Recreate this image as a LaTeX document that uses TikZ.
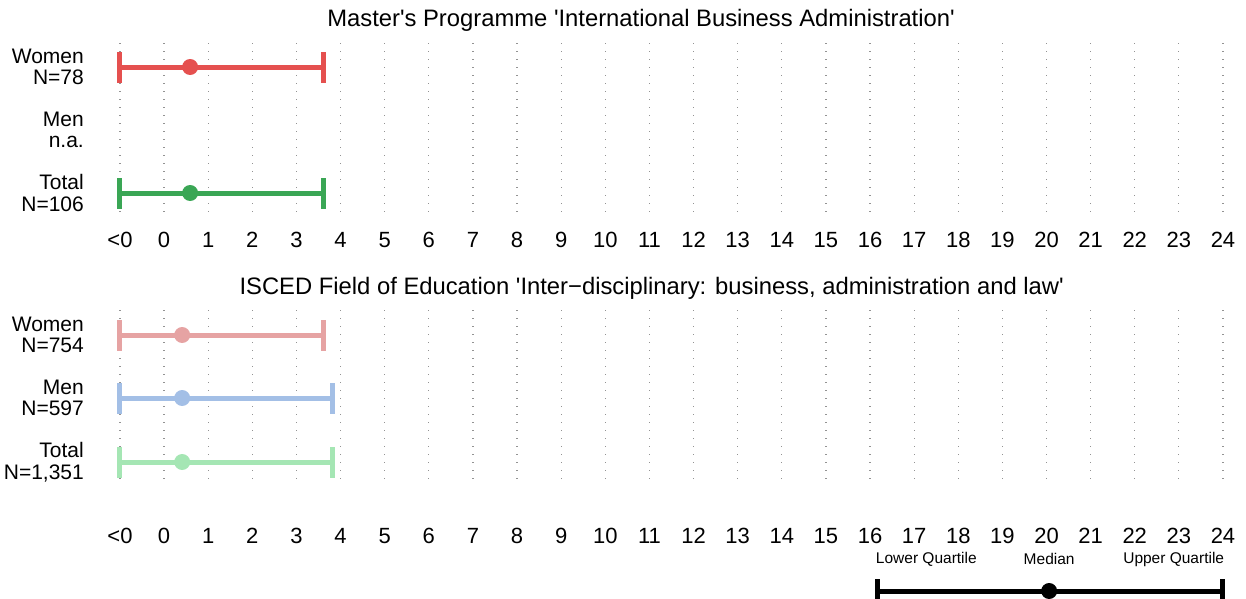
\documentclass[tikz,border=0pt]{standalone}
\usepackage{fontspec}
\setmainfont{Liberation Sans}
\usetikzlibrary{positioning}
\definecolor{wA}{HTML}{E5504F}
\definecolor{tA}{HTML}{3AA655}
\definecolor{wB}{HTML}{E6A3A3}
\definecolor{mB}{HTML}{A3BFE6}
\definecolor{tB}{HTML}{A5E6B4}

\begin{document}
\begin{tikzpicture}[x=44.12pt,y=-1pt,
		gridline/.style={gray!85,line width=1.2pt,dash pattern=on 1.2pt off 6.8pt},
		bar/.style={line width=5pt},
		med/.style={circle,inner sep=0pt,minimum size=16pt},
		rowlabel/.style={anchor=east,align=right,inner sep=0pt,font=\fontsize{21}{21.5}\selectfont},
		tick/.style={inner sep=0pt,font=\fontsize{22}{24}\selectfont},
		heading/.style={anchor=base,inner sep=0pt,font=\fontsize{23.8}{26}\selectfont},
		keytext/.style={inner sep=0pt,font=\fontsize{15.5}{18}\selectfont}]
	\useasboundingbox (-3.7194,0) rectangle (24.5218,598);
	% grid and axis
	\foreach \v in {-1,...,24} {
		\draw[gridline] (\v,43) -- (\v,217);
		\draw[gridline] (\v,310) -- (\v,485);
	}
	\node[tick] (ta) at (-1,240) {<0};
	\node[tick] (tb) at (-1,536) {<0};
	\foreach \v in {0,...,24} {
		\node[tick] (ta\v) at (\v,240) {\v};
		\node[tick] (tb\v) at (\v,536) {\v};
	}
	% headings
	\node[heading] (h1) at (10.81,26) {Master\textquotesingle s Programme \textquotesingle International Business Administration\textquotesingle};
	\node[heading] (h2) at (11.05,294) {ISCED Field of Education \textquotesingle Inter−disciplinary: business, administration and law\textquotesingle};
	% rows
	\foreach \n/\y/\u/\t in {
			a/67/3.61/{Women\\N=78},
			b/130/0/{Men\\n.a.},
			c/193/3.61/{Total\\N=106},
			d/335/3.61/{Women\\N=754},
			e/398/3.82/{Men\\N=597},
			f/462/3.82/{Total\\N=1,351}} {
		\node[rowlabel] (l\n) at (-1.815,\y) {\t};
		\coordinate (lo\n) at (-1,\y);
		\coordinate (hi\n) at (\u,\y);
	}
	\foreach \n/\m/\c in {a/0.59/wA, c/0.59/tA, d/0.41/wB, e/0.41/mB, f/0.41/tB} {
		\draw[bar,\c] (lo\n) -- (hi\n);
		\draw[bar,\c] ([yshift=15pt]lo\n) -- ([yshift=-16pt]lo\n);
		\draw[bar,\c] ([yshift=15pt]hi\n) -- ([yshift=-16pt]hi\n);
		\node[med,fill=\c] (m\n) at (\m,0 |- lo\n) {};
	}
	% key
	\coordinate (klo) at (16.18,591);
	\coordinate (khi) at (23.98,591);
	\draw[bar,black] (klo) -- (khi);
	\draw[bar,black] ([yshift=12pt]klo) -- ([yshift=-12pt]klo);
	\draw[bar,black] ([yshift=12pt]khi) -- ([yshift=-12pt]khi);
	\node[med,fill=black] (kmed) at (20.06,591) {};
	\node[keytext,anchor=west] (klt) at (16.13,559) {Lower Quartile};
	\node[keytext] (kmt) at (20.06,559) {Median};
	\node[keytext,anchor=east] (kut) at (24.03,559) {Upper Quartile};
\end{tikzpicture}
\end{document}
